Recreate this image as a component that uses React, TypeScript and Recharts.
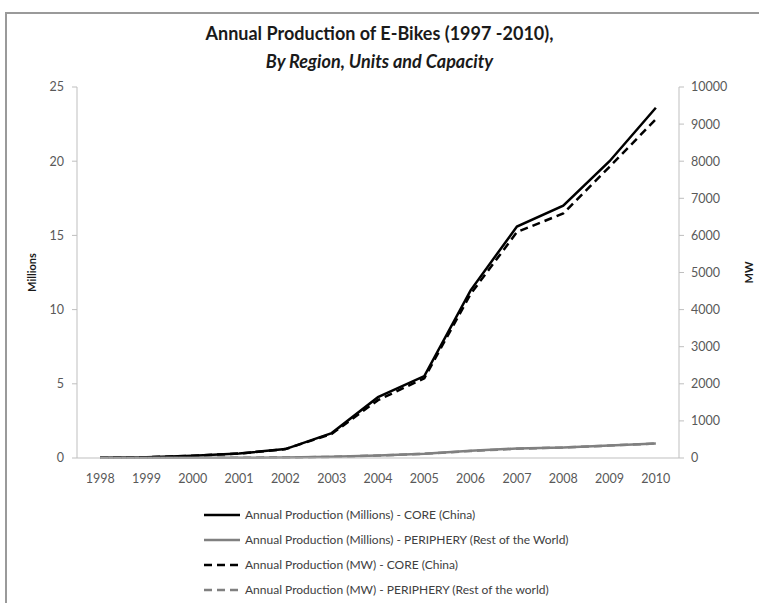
import React from 'react';
import { LineChart, Line, XAxis, YAxis } from 'recharts';

// values
const years = [1998, 1999, 2000, 2001, 2002, 2003, 2004, 2005, 2006, 2007, 2008, 2009, 2010];
const coreMillions = [0.02, 0.05, 0.15, 0.3, 0.6, 1.68, 4.1, 5.52, 11.3, 15.6, 17.0, 20.0, 23.6];
const peripheryMillions = [0.01, 0.01, 0.01, 0.02, 0.03, 0.08, 0.17, 0.29, 0.49, 0.64, 0.71, 0.85, 0.98];
const coreMW = [8, 20, 60, 120, 240, 650, 1560, 2150, 4420, 6090, 6590, 7850, 9130];
const peripheryMW = [4, 4, 4, 8, 12, 30, 65, 110, 190, 250, 285, 335, 390];

const leftTicks = [0, 5, 10, 15, 20, 25];
const rightTicks = [0, 1000, 2000, 3000, 4000, 5000, 6000, 7000, 8000, 9000, 10000];
const boundaryTicks = [1997.5, 1998.5, 1999.5, 2000.5, 2001.5, 2002.5, 2003.5, 2004.5, 2005.5, 2006.5, 2007.5, 2008.5, 2009.5, 2010.5];

const chartData = years.map((year, i) => ({
  year,
  coreM: coreMillions[i],
  periM: peripheryMillions[i],
  coreMW: coreMW[i],
  periMW: peripheryMW[i],
}));

const series = [
  { key: 'coreM', axis: 'left', name: 'Annual Production (Millions) - CORE (China)', color: '#000000', dash: undefined },
  { key: 'periM', axis: 'left', name: 'Annual Production (Millions) - PERIPHERY (Rest of the World)', color: '#808080', dash: undefined },
  { key: 'coreMW', axis: 'right', name: 'Annual Production (MW) - CORE (China)', color: '#000000', dash: '8 5' },
  { key: 'periMW', axis: 'right', name: 'Annual Production (MW) - PERIPHERY (Rest of the world)', color: '#808080', dash: '8 5' },
];

const FONT = 'Lato, "Open Sans", sans-serif';
const tickStyle = { fill: '#595959', fontSize: 12.5, fontFamily: FONT };
const axisTitle = { fill: '#1a1a1a', fontSize: 11, fontWeight: 700, fontFamily: FONT, textAnchor: 'middle' as const };

export default function App() {
  return (
    <div style={{ position: 'absolute', left: 0, top: 0, width: 759, height: 603, background: '#fff', overflow: 'hidden' }}>
      <div
        style={{
          position: 'absolute',
          left: 5,
          top: 12,
          width: 770,
          height: 620,
          borderLeft: '2px solid #9a9a9a',
          borderTop: '2px solid #9a9a9a',
        }}
      />
      <div
        style={{
          position: 'absolute',
          left: 0,
          top: 19,
          width: 759,
          textAlign: 'center',
          fontFamily: FONT,
          fontWeight: 700,
          fontSize: 18,
          lineHeight: '28px',
          color: '#1a1a1a',
        }}
      >
        <div>Annual Production of E-Bikes (1997 -2010),</div>
        <div style={{ fontStyle: 'italic' }}>By Region, Units and Capacity</div>
      </div>
      <div style={{ position: 'absolute', left: 0, top: 0 }}>
        <LineChart width={759} height={603} data={chartData} margin={{ top: 87, right: 0, bottom: 115, left: 0 }}>
          <XAxis
            xAxisId="main"
            dataKey="year"
            type="number"
            domain={[1997.5, 2010.5]}
            ticks={years}
            interval={0}
            tickLine={false}
            axisLine={{ stroke: '#bfbfbf' }}
            tick={tickStyle}
            tickMargin={10}
            height={30}
          />
          <XAxis
            xAxisId="bounds"
            dataKey="year"
            type="number"
            domain={[1997.5, 2010.5]}
            ticks={boundaryTicks}
            interval={0}
            tick={false}
            tickSize={5}
            tickLine={{ stroke: '#bfbfbf' }}
            axisLine={false}
            height={0}
          />
          <YAxis
            yAxisId="left"
            orientation="left"
            width={77}
            domain={[0, 25]}
            ticks={leftTicks}
            tickSize={5}
            tickMargin={8}
            tick={tickStyle}
            axisLine={{ stroke: '#bfbfbf' }}
            tickLine={{ stroke: '#bfbfbf' }}
            label={{ value: 'Millions', angle: -90, position: 'insideLeft', offset: 32, style: axisTitle }}
          />
          <YAxis
            yAxisId="right"
            orientation="right"
            width={80}
            domain={[0, 10000]}
            ticks={rightTicks}
            tickSize={5}
            tickMargin={7}
            tick={tickStyle}
            axisLine={{ stroke: '#bfbfbf' }}
            tickLine={{ stroke: '#bfbfbf' }}
            label={{ value: 'MW', angle: -90, position: 'insideRight', offset: 10, style: axisTitle }}
          />
          {series.map((s) => (
            <Line
              key={s.key}
              xAxisId="main"
              yAxisId={s.axis}
              type="linear"
              dataKey={s.key}
              name={s.name}
              stroke={s.color}
              strokeWidth={2.5}
              strokeDasharray={s.dash}
              dot={false}
              isAnimationActive={false}
            />
          ))}
        </LineChart>
      </div>
      <div style={{ position: 'absolute', left: 203, top: 502, fontFamily: FONT, fontSize: 12, color: '#404040' }}>
        {series.map((s) => (
          <div key={s.key} style={{ display: 'flex', alignItems: 'center', height: 25 }}>
            <svg width={38} height={6} style={{ marginRight: 4 }}>
              <line x1={1} x2={37} y1={3} y2={3} stroke={s.color} strokeWidth={2.5} strokeDasharray={s.dash} />
            </svg>
            <span>{s.name}</span>
          </div>
        ))}
      </div>
    </div>
  );
}
